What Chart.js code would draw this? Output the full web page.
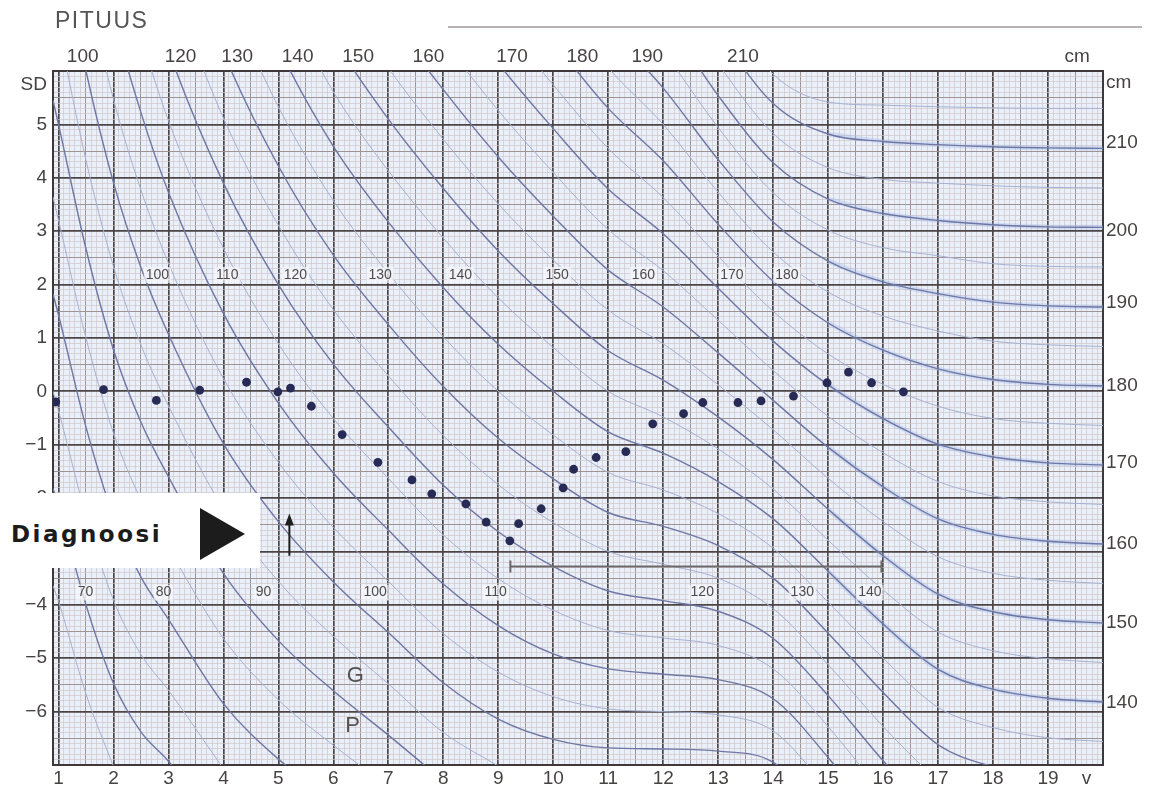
<!DOCTYPE html>
<html lang="fi">
<head>
<meta charset="utf-8">
<title>Pituus SD</title>
<script src="https://cdn.jsdelivr.net/npm/chart.js@4.4.1/dist/chart.umd.min.js"></script>
<style>
  html, body { margin: 0; padding: 0; background: #fff; }
  #wrap { position: relative; width: 1158px; height: 794px; }
  #title { position: absolute; left: 55px; top: 7px; font: 23px "Liberation Sans", Arial, sans-serif; letter-spacing: 1.5px; color: #555; }
  #topRule { position: absolute; left: 448px; top: 26px; width: 694px; height: 2px; background: #b9b2b2; }
  #diag { position: absolute; left: 0; top: 493px; width: 260px; height: 75px; background: #fff; }
  #diag span { position: absolute; left: 11px; top: 28px; font: bold 23px "DejaVu Sans", sans-serif; letter-spacing: 2.5px; color: #1c1c1c; }
  #diag i { position: absolute; left: 200px; top: 15px; width: 0; height: 0; border-top: 26px solid transparent; border-bottom: 26px solid transparent; border-left: 45px solid #1c1c1c; }
</style>
</head>
<body>
<div id="wrap">
  <canvas id="chart"></canvas>
  <div id="title">PITUUS</div>
  <div id="topRule"></div>
  <div id="diag"><span>Diagnoosi</span><i></i></div>
</div>
<script>
const _ = null;

// ages where the height curves are read (years)
const ages = [0.9, 1, 1.5, 2, 2.5, 3, 4, 5, 6, 7, 8, 9, 10, 11, 12, 13, 14, 15, 16, 17, 18, 19, 20];

// SD value of each fixed height (cm) at the ages above
const sd65 = [-3.64, -3.93, -5.67, -7.03, _, _, _, _, _, _, _, _, _, _, _, _, _, _, _, _, _, _, _];
const sd70 = [-1.82, -2.14, -4.0, -5.47, -6.38, -6.93, -8.3, _, _, _, _, _, _, _, _, _, _, _, _, _, _, _, _];
const sd75 = [0, -0.36, -2.33, -3.91, -4.93, -5.6, -7.07, _, _, _, _, _, _, _, _, _, _, _, _, _, _, _, _];
const sd80 = [1.82, 1.43, -0.67, -2.34, -3.48, -4.27, -5.85, -6.89, -7.65, _, _, _, _, _, _, _, _, _, _, _, _, _, _];
const sd85 = [3.64, 3.21, 1.0, -0.78, -2.03, -2.93, -4.63, -5.78, -6.63, -7.4, _, _, _, _, _, _, _, _, _, _, _, _, _];
const sd90 = [5.45, 5.0, 2.67, 0.78, -0.58, -1.6, -3.41, -4.67, -5.61, -6.44, -7.3, _, _, _, _, _, _, _, _, _, _, _, _];
const sd95 = [7.27, 6.79, 4.33, 2.34, 0.87, -0.27, -2.2, -3.56, -4.59, -5.48, -6.39, -7.02, _, _, _, _, _, _, _, _, _, _, _];
const sd100 = [_, 8.57, 6.0, 3.91, 2.32, 1.07, -0.98, -2.44, -3.57, -4.52, -5.46, -6.14, -6.52, -6.68, -6.7, -6.74, -6.95, -8.0, _, _, _, _, _];
const sd105 = [_, _, 7.67, 5.47, 3.77, 2.4, 0.24, -1.33, -2.55, -3.56, -4.54, -5.26, -5.72, -5.95, -6.0, -6.06, -6.36, -7.44, _, _, _, _, _];
const sd110 = [_, _, 9.33, 7.03, 5.22, 3.73, 1.46, -0.22, -1.53, -2.6, -3.61, -4.39, -4.92, -5.2, -5.3, -5.4, -5.76, -6.86, -8.2, _, _, _, _];
const sd115 = [_, _, _, 8.59, 6.67, 5.07, 2.68, 0.89, -0.51, -1.63, -2.69, -3.51, -4.1, -4.48, -4.62, -4.76, -5.2, -6.28, -7.56, _, _, _, _];
const sd120 = [_, _, _, _, 8.12, 6.4, 3.9, 2.0, 0.51, -0.67, -1.76, -2.63, -3.28, -3.74, -3.92, -4.12, -4.63, -5.7, -6.92, -8.0, _, _, _];
const sd125 = [_, _, _, _, _, 7.73, 5.12, 3.11, 1.53, 0.29, -0.83, -1.75, -2.46, -3.0, -3.24, -3.5, -4.07, -5.12, -6.28, -7.32, _, _, _];
const sd130 = [_, _, _, _, _, 9.07, 6.34, 4.22, 2.55, 1.25, 0.09, -0.88, -1.64, -2.27, -2.53, -2.89, -3.5, -4.53, -5.64, -6.62, -7.03, -7.22, _];
const sd135 = [_, _, _, _, _, _, 7.56, 5.33, 3.57, 2.21, 1.02, 0.0, -0.82, -1.52, -1.85, -2.29, -2.94, -3.95, -5.0, -5.92, -6.3, -6.49, -6.56];
const sd140 = [_, _, _, _, _, _, 8.78, 6.44, 4.59, 3.17, 1.94, 0.88, 0, -0.76, -1.16, -1.69, -2.39, -3.37, -4.36, -5.21, -5.58, -5.75, -5.82];
const sd145 = [_, _, _, _, _, _, _, 7.56, 5.61, 4.13, 2.87, 1.75, 0.82, 0, -0.48, -1.08, -1.83, -2.79, -3.72, -4.51, -4.86, -5.01, -5.08];
const sd150 = [_, _, _, _, _, _, _, 8.67, 6.63, 5.1, 3.8, 2.63, 1.64, 0.76, 0.21, -0.48, -1.28, -2.21, -3.08, -3.8, -4.13, -4.28, -4.34];
const sd155 = [_, _, _, _, _, _, _, _, 7.65, 6.06, 4.72, 3.51, 2.46, 1.52, 0.89, 0.12, -0.72, -1.63, -2.44, -3.1, -3.41, -3.54, -3.6];
const sd160 = [_, _, _, _, _, _, _, _, 8.67, 7.02, 5.65, 4.39, 3.28, 2.27, 1.58, 0.72, -0.17, -1.05, -1.79, -2.39, -2.68, -2.81, -2.86];
const sd165 = [_, _, _, _, _, _, _, _, _, 7.98, 6.57, 5.26, 4.1, 3.03, 2.26, 1.33, 0.39, -0.47, -1.15, -1.69, -1.96, -2.07, -2.12];
const sd170 = [_, _, _, _, _, _, _, _, _, _, 7.5, 6.14, 4.92, 3.79, 2.95, 1.93, 0.94, 0.12, -0.51, -0.99, -1.23, -1.34, -1.38];
const sd175 = [_, _, _, _, _, _, _, _, _, _, 8.43, 7.02, 5.74, 4.55, 3.63, 2.53, 1.5, 0.7, 0.13, -0.28, -0.51, -0.6, -0.64];
const sd180 = [_, _, _, _, _, _, _, _, _, _, _, 7.89, 6.56, 5.3, 4.32, 3.13, 2.06, 1.28, 0.77, 0.42, 0.22, 0.13, 0.1];
const sd185 = [_, _, _, _, _, _, _, _, _, _, _, _, 7.38, 6.06, 5.0, 3.73, 2.61, 1.86, 1.41, 1.13, 0.94, 0.87, 0.84];
const sd190 = [_, _, _, _, _, _, _, _, _, _, _, _, 8.2, 6.82, 5.68, 4.34, 3.17, 2.44, 2.05, 1.83, 1.67, 1.6, 1.58];
const sd195 = [_, _, _, _, _, _, _, _, _, _, _, _, _, 7.58, 6.37, 4.94, 3.72, 3.02, 2.69, 2.54, 2.39, 2.34, 2.33];
const sd200 = [_, _, _, _, _, _, _, _, _, _, _, _, _, 8.33, 7.05, 5.54, 4.28, 3.6, 3.33, 3.2, 3.12, 3.08, 3.07];
const sd205 = [_, _, _, _, _, _, _, _, _, _, _, _, _, _, 7.74, 6.14, 4.83, 4.19, 3.97, 3.9, 3.85, 3.82, 3.81];
const sd210 = [_, _, _, _, _, _, _, _, _, _, _, _, _, _, 8.42, 6.75, 5.39, 4.82, 4.68, 4.62, 4.58, 4.56, 4.55];
const sd215 = [_, _, _, _, _, _, _, _, _, _, _, _, _, _, _, 7.35, 5.94, 5.42, 5.36, 5.33, 5.31, 5.3, 5.3];

const heights = [65, 70, 75, 80, 85, 90, 95, 100, 105, 110, 115, 120, 125, 130, 135, 140, 145, 150, 155, 160, 165, 170, 175, 180, 185, 190, 195, 200, 205, 210, 215];
const curveSd = [sd65, sd70, sd75, sd80, sd85, sd90, sd95, sd100, sd105, sd110, sd115, sd120, sd125, sd130, sd135, sd140, sd145, sd150, sd155, sd160, sd165, sd170, sd175, sd180, sd185, sd190, sd195, sd200, sd205, sd210, sd215];

// measured visits
const visitAges = [0.95, 1.82, 2.78, 3.57, 4.42, 4.99, 5.22, 5.6, 6.16, 6.81, 7.43, 7.79, 8.41, 8.78, 9.21, 9.37, 9.78, 10.18, 10.37, 10.78, 11.32, 11.81, 12.37, 12.72, 13.36, 13.78, 14.37, 14.98, 15.37, 15.79, 16.37];
const visitSd = [-0.2, 0.03, -0.17, 0.02, 0.17, -0.01, 0.06, -0.28, -0.81, -1.33, -1.66, -1.92, -2.11, -2.45, -2.8, -2.48, -2.2, -1.81, -1.46, -1.24, -1.13, -0.61, -0.42, -0.21, -0.21, -0.18, -0.09, 0.16, 0.36, 0.16, -0.01];

// axis labels
const bottomTickAges = [1, 2, 3, 4, 5, 6, 7, 8, 9, 10, 11, 12, 13, 14, 15, 16, 17, 18, 19, 19.7];
const bottomTickLabels = ["1", "2", "3", "4", "5", "6", "7", "8", "9", "10", "11", "12", "13", "14", "15", "16", "17", "18", "19", "v"];
const topTickAges = [1.44, 3.22, 4.25, 5.35, 6.45, 7.73, 9.25, 10.53, 11.71, 13.45, 19.53];
const topTickLabels = ["100", "120", "130", "140", "150", "160", "170", "180", "190", "210", "cm"];
const leftTickSd = [5.74, 5, 4, 3, 2, 1, 0, -1, -2, -3, -4, -5, -6];
const leftTickLabels = ["SD", "5", "4", "3", "2", "1", "0", "\u22121", "\u22122", "\u22123", "\u22124", "\u22125", "\u22126"];
const rightTickSd = [5.78, 4.65, 3.0, 1.65, 0.11, -1.33, -2.85, -4.33, -5.83];
const rightTickLabels = ["cm", "210", "200", "190", "180", "170", "160", "150", "140"];

// small height labels inside the grid
const upperRowAges = [2.8, 4.07, 5.31, 6.85, 8.31, 10.07, 11.64, 13.25, 14.25];
const upperRowLabels = ["100", "110", "120", "130", "140", "150", "160", "170", "180"];
const upperRowSd = 2.18;
const lowerRowAges = [1.49, 2.91, 4.73, 6.76, 8.95, 12.71, 14.53, 15.76];
const lowerRowLabels = ["70", "80", "90", "100", "110", "120", "130", "140"];
const lowerRowSd = -3.77;

// annotations: arrow [age, fromSd, toSd], span [fromAge, toAge, sd]
const diagnosisArrow = [5.2, -3.08, -2.29];
const followUpSpan = [9.22, 15.97, -3.28];
const markerLetters = ["G", "P"];
const markerAges = [6.4, 6.35];
const markerSd = [-5.33, -6.27];

const labelFont = { family: '"Liberation Sans", Arial, sans-serif', size: 19 };
const labelColor = "#474343";
const borderDark = "#3f3838";

function gridColor(v) {
  if (v % 10 === 0) return "#4d4545";
  if (v % 5 === 0) return "#a09393";
  return "#d0c6c9";
}
function gridWidth(v) {
  if (v % 10 === 0) return 1.7;
  if (v % 5 === 0) return 1;
  return 0.7;
}

const onChart = { xAxisID: "x", yAxisID: "y" };

const curveSets = heights.map((h, k) => ({
  ...onChart,
  data: ages.map((a, i) => ({ x: a, y: curveSd[k][i] })),
  borderColor: h % 10 === 0 ? "#6d76a4" : "#a6b0d3",
  borderWidth: h % 10 === 0 ? 1.4 : 1,
  pointRadius: 0,
  cubicInterpolationMode: "monotone",
  spanGaps: false,
}));
const bandSets = heights
  .map((h, k) => ({ h, k }))
  .filter(({ h }) => h % 10 === 0 && h >= 140)
  .map(({ k }) => ({
    ...onChart,
    data: ages.map((a, i) => ({ x: a, y: a >= 15 ? curveSd[k][i] : null })),
    borderColor: "rgba(150, 180, 232, 0.3)",
    borderWidth: 5,
    pointRadius: 0,
    cubicInterpolationMode: "monotone",
    spanGaps: false,
  }));
const visitSet = {
  ...onChart,
  data: visitAges.map((a, i) => ({ x: a, y: visitSd[i] })),
  showLine: false,
  pointRadius: 4.4,
  pointBackgroundColor: "#262a54",
  pointBorderWidth: 0,
};

const chartPaper = {
  id: "chartPaper",
  beforeDraw(chart) {
    const { ctx, chartArea: a } = chart;
    ctx.save();
    ctx.fillStyle = "#eaf0fa";
    ctx.fillRect(a.left, a.top, a.right - a.left, a.bottom - a.top);
    ctx.restore();
  },
  afterDatasetsDraw(chart) {
    const { ctx } = chart;
    const x = chart.scales.x;
    const y = chart.scales.y;
    ctx.save();
    ctx.font = '14px "Liberation Sans", Arial, sans-serif';
    ctx.textAlign = "center";
    ctx.textBaseline = "middle";
    const rowLabel = (age, sd, text) => {
      const px = x.getPixelForValue(age);
      const py = y.getPixelForValue(sd);
      const w = ctx.measureText(text).width + 4;
      ctx.fillStyle = "rgba(246, 248, 252, 0.7)";
      ctx.fillRect(px - w / 2, py - 8, w, 16);
      ctx.fillStyle = "#4f4b4b";
      ctx.fillText(text, px, py);
    };
    upperRowAges.forEach((a, i) => rowLabel(a, upperRowSd, upperRowLabels[i]));
    lowerRowAges.forEach((a, i) => rowLabel(a, lowerRowSd, lowerRowLabels[i]));

    ctx.font = '22px "Liberation Sans", Arial, sans-serif';
    ctx.fillStyle = "#575252";
    markerLetters.forEach((t, i) => ctx.fillText(t, x.getPixelForValue(markerAges[i]), y.getPixelForValue(markerSd[i])));

    // diagnosis arrow
    const ax = x.getPixelForValue(diagnosisArrow[0]);
    const ay0 = y.getPixelForValue(diagnosisArrow[1]);
    const ay1 = y.getPixelForValue(diagnosisArrow[2]);
    ctx.strokeStyle = "#1e1e1e";
    ctx.fillStyle = "#1e1e1e";
    ctx.lineWidth = 2;
    ctx.beginPath();
    ctx.moveTo(ax, ay0);
    ctx.lineTo(ax, ay1 + 8);
    ctx.stroke();
    ctx.beginPath();
    ctx.moveTo(ax, ay1);
    ctx.lineTo(ax - 4.5, ay1 + 12);
    ctx.lineTo(ax + 4.5, ay1 + 12);
    ctx.closePath();
    ctx.fill();

    // follow-up span
    const sx0 = x.getPixelForValue(followUpSpan[0]);
    const sx1 = x.getPixelForValue(followUpSpan[1]);
    const sy = y.getPixelForValue(followUpSpan[2]);
    ctx.strokeStyle = "#6d6868";
    ctx.lineWidth = 2;
    ctx.beginPath();
    ctx.moveTo(sx0, sy);
    ctx.lineTo(sx1, sy);
    ctx.moveTo(sx0, sy - 6);
    ctx.lineTo(sx0, sy + 6);
    ctx.moveTo(sx1, sy - 6);
    ctx.lineTo(sx1, sy + 6);
    ctx.stroke();
    ctx.restore();
  },
};

const labelTicks = (extra) => ({
  display: true,
  autoSkip: false,
  maxRotation: 0,
  color: labelColor,
  font: labelFont,
  ...extra,
});

new Chart(document.getElementById("chart"), {
  type: "line",
  data: { datasets: [visitSet, ...curveSets, ...bandSets] },
  options: {
    responsive: true,
    maintainAspectRatio: false,
    animation: false,
    events: [],
    layout: { padding: 0 },
    plugins: { legend: { display: false }, tooltip: { enabled: false } },
    scales: {
      x: {
        type: "linear", position: "bottom", min: 0.9, max: 20, weight: 1,
        grid: { display: false, drawTicks: false },
        border: { display: false },
        ticks: labelTicks({ padding: 2, callback: (v, i) => bottomTickLabels[i] }),
        afterBuildTicks(s) { s.ticks = bottomTickAges.map((v) => ({ value: v })); },
        afterFit(s) { s.height = 29; },
      },
      y: {
        type: "linear", position: "left", min: -7, max: 6, weight: 1,
        grid: { display: false, drawTicks: false },
        border: { display: false },
        ticks: labelTicks({ padding: 6, callback: (v, i) => leftTickLabels[i] }),
        afterBuildTicks(s) { s.ticks = leftTickSd.map((v) => ({ value: v })); },
        afterFit(s) { s.width = 53; },
      },
      xm: {
        type: "linear", position: "bottom", min: 9, max: 200, weight: 0,
        ticks: { display: false, stepSize: 1 },
        grid: { drawTicks: false, color: (c) => gridColor(c.tick.value), lineWidth: (c) => gridWidth(c.tick.value) },
        border: { display: true, color: borderDark, width: 2 },
        afterFit(s) { s.height = 0; },
      },
      ym: {
        type: "linear", position: "left", min: -70, max: 60, weight: 0,
        ticks: { display: false, stepSize: 1 },
        grid: { drawTicks: false, color: (c) => gridColor(c.tick.value), lineWidth: (c) => gridWidth(c.tick.value) },
        border: { display: true, color: borderDark, width: 2 },
        afterFit(s) { s.width = 0; },
      },
      xTop: {
        type: "linear", position: "top", min: 0.9, max: 20, weight: 1,
        grid: { display: false, drawTicks: false },
        border: { display: true, color: borderDark, width: 2 },
        ticks: labelTicks({ padding: 3, callback: (v, i) => topTickLabels[i] }),
        afterBuildTicks(s) { s.ticks = topTickAges.map((v) => ({ value: v })); },
        afterFit(s) { s.height = 71; },
      },
      yRight: {
        type: "linear", position: "right", min: -7, max: 6, weight: 1,
        grid: { display: false, drawTicks: false },
        border: { display: true, color: borderDark, width: 2 },
        ticks: labelTicks({ padding: 3, callback: (v, i) => rightTickLabels[i] }),
        afterBuildTicks(s) { s.ticks = rightTickSd.map((v) => ({ value: v })); },
        afterFit(s) { s.width = 55; },
      },
    },
  },
  plugins: [chartPaper],
});
</script>
</body>
</html>
